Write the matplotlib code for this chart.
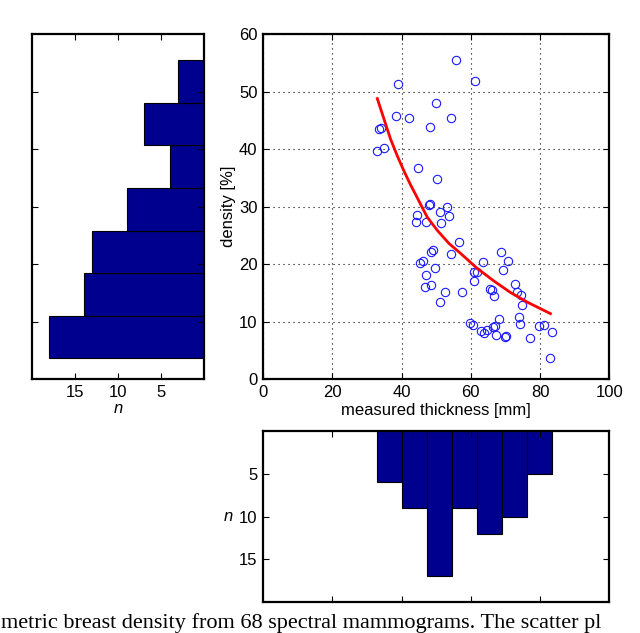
import numpy as np
import matplotlib
matplotlib.use('Agg')
import matplotlib.pyplot as plt

plt.rcParams['font.family'] = ['Liberation Sans', 'DejaVu Sans']
plt.rcParams['font.size'] = 12

# measured thickness [mm] and density [%] of the 68 mammograms
thickness = [55.6, 61.2, 39.0, 49.9, 38.5, 42.3, 54.2, 48.2, 33.5, 34.2, 33.0, 34.9,
             44.7, 50.3, 47.9, 48.1, 53.2, 51.1, 53.8, 44.5, 44.2, 47.2, 51.3, 56.7,
             49.1, 48.6, 54.3, 68.6, 45.3, 46.3, 63.5, 70.8, 49.6, 69.2, 60.9, 61.8,
             47.2, 72.9, 48.6, 46.7, 60.9, 65.5, 66.2, 52.5, 57.5, 73.4, 74.5, 66.8,
             51.1, 74.8, 68.1, 73.8, 74.3, 59.9, 60.6, 79.8, 81.1, 63.0, 63.9, 66.4,
             67.4, 70.0, 70.3, 77.2, 83.5, 83.0, 64.6, 66.9]
density = [55.5, 51.9, 51.4, 48.0, 45.8, 45.4, 45.5, 43.9, 43.5, 43.7, 39.7, 40.2,
           36.7, 34.9, 30.3, 30.5, 29.9, 29.0, 28.4, 28.6, 27.3, 27.3, 27.1, 23.9,
           22.4, 22.1, 21.7, 22.1, 20.2, 20.6, 20.3, 20.5, 19.4, 19.0, 18.6, 18.6,
           18.1, 16.6, 16.4, 16.1, 17.0, 15.7, 15.5, 15.2, 15.2, 15.2, 14.6, 14.4,
           13.5, 12.9, 10.5, 10.8, 9.6, 9.7, 9.5, 9.3, 9.4, 8.3, 8.0, 9.0,
           7.7, 7.3, 7.5, 7.1, 8.2, 3.6, 8.6, 9.2]

# fitted curve
fit_x = [33.0, 34.9, 36.8, 38.8, 40.7, 42.6, 44.5, 47.4, 50.3, 53.7, 57.0, 61.8,
         66.6, 71.4, 76.3, 83.0]
fit_y = [48.8, 45.3, 41.8, 38.8, 36.2, 33.8, 31.6, 28.2, 25.9, 23.6, 21.9, 19.3,
         17.1, 15.1, 13.4, 11.4]

n_bins = 7
bar_color = '#00008F'

fig = plt.figure(figsize=(6.4, 6.33), dpi=100)
ax_l = fig.add_axes([0.05, 0.401, 0.269, 0.545])
ax_s = fig.add_axes([0.411, 0.401, 0.541, 0.545])
ax_b = fig.add_axes([0.411, 0.049, 0.541, 0.270])


def style(ax):
    for sp in ax.spines.values():
        sp.set_linewidth(1.6)
    ax.tick_params(direction='in', top=True, right=True, length=4, width=0.8,
                   labelsize=12, pad=4)


# scatter
ax_s.plot(thickness, density, 'o', mfc='none', mec='#1a1aff', ms=6, mew=0.8)
ax_s.plot(fit_x, fit_y, '-', color='#ff0000', lw=2)
ax_s.set_xlim(0, 100)
ax_s.set_ylim(0, 60)
ax_s.set_xticks(range(0, 101, 20))
ax_s.set_yticks(range(0, 61, 10))
ax_s.grid(True, color='black', linestyle=(0, (1, 3.5)), linewidth=0.8)
ax_s.set_xlabel('measured thickness [mm]', labelpad=2)
ax_s.set_ylabel('density [%]', labelpad=2)
style(ax_s)

# left histogram (density)
ax_l.hist(density, bins=n_bins, orientation='horizontal', color=bar_color,
          edgecolor='black', linewidth=0.8)
ax_l.set_ylim(0, 60)
ax_l.set_yticks(range(10, 51, 10))
ax_l.set_yticklabels([])
ax_l.set_xlim(20, 0)
ax_l.set_xticks([15, 10, 5])
ax_l.set_xlabel('n', style='italic', labelpad=1)
style(ax_l)

# bottom histogram (thickness)
ax_b.hist(thickness, bins=n_bins, color=bar_color, edgecolor='black', linewidth=0.8)
ax_b.set_xlim(0, 100)
ax_b.set_xticks(range(20, 81, 20))
ax_b.set_xticklabels([])
ax_b.set_ylim(20, 0)
ax_b.set_yticks([5, 10, 15])
ax_b.set_ylabel('n', style='italic', rotation=0, va='center', labelpad=8)
style(ax_b)

# caption line of the source page
fig.text(0.002, 0.0, 'metric breast density from 68 spectral mammograms. The scatter pl',
         family=['Liberation Serif', 'DejaVu Serif'], fontsize=16, ha='left', va='bottom')

fig.savefig('out.png', dpi=100)
